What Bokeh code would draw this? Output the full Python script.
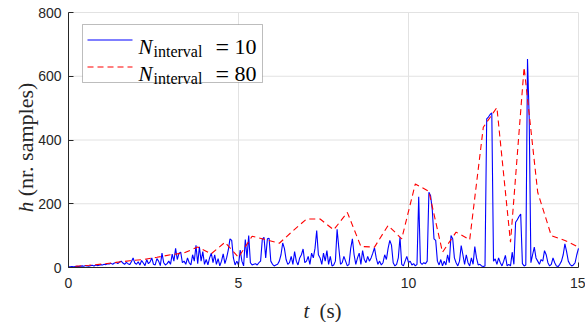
import math
import numpy as np
from bokeh.plotting import figure
from bokeh.models import Range1d, Label, BoxAnnotation, FixedTicker
from bokeh.embed import file_html
from bokeh.resources import INLINE

# ---------------- data ----------------
# N_interval = 10 : one value every 0.05 s (t = 0 .. 15)
t_blue = [round(0.05 * i, 2) for i in range(301)]
h_blue = (
    [2, 2, 3, 2, 3, 4, 3, 4, 5, 4, 6, 5, 4, 6, 7, 5, 8, 6, 7, 9] +
    [8, 10, 9, 12, 11, 13, 10, 14, 16, 12, 17, 20, 14, 10, 16, 12, 9, 18, 30, 14] +
    [10, 18, 8, 22, 14, 6, 25, 12, 18, 30, 10, 8, 28, 20, 6, 45, 15, 8, 12, 20] +
    [10, 42, 20, 60, 25, 45, 48, 15, 20, 10, 30, 15, 8, 40, 20, 70, 12, 65, 20, 50] +
    [10, 25, 8, 30, 45, 15, 40, 10, 28, 5, 20, 43, 12, 30, 55, 90, 85, 30, 8, 20] +
    [8, 55, 20, 5, 88, 30, 100, 15, 8, 10, 12, 8, 15, 20, 88, 95, 30, 90, 92, 20] +
    [10, 5, 8, 10, 20, 40, 77, 60, 25, 10, 15, 35, 10, 50, 20, 8, 30, 40, 58, 15] +
    [20, 35, 10, 45, 30, 60, 116, 40, 30, 10, 45, 20, 53, 10, 35, 5, 8, 20, 120, 62] +
    [10, 15, 35, 20, 5, 10, 60, 90, 40, 10, 30, 45, 10, 53, 25, 15, 35, 20, 30, 45] +
    [62, 30, 10, 20, 8, 15, 40, 25, 60, 85, 70, 15, 5, 10, 30, 95, 10, 5, 20, 35] +
    [15, 20, 8, 12, 5, 10, 222, 15, 10, 15, 12, 20, 236, 225, 180, 90, 85, 20, 8, 25] +
    [5, 20, 8, 40, 15, 100, 90, 30, 15, 5, 20, 69, 40, 10, 40, 15, 5, 30, 10, 66] +
    [30, 8, 10, 5, 3, 5, 466, 472, 480, 485, 20, 27, 10, 30, 15, 5, 20, 38, 5, 10] +
    [5, 48, 10, 142, 150, 160, 168, 12, 5, 8, 654, 470, 15, 40, 64, 30, 20, 10, 25, 20] +
    [53, 40, 15, 5, 10, 30, 15, 5, 3, 10, 20, 40, 74, 50, 20, 10, 5, 8, 15, 40] +
    [60]
)

# N_interval = 80 : one value every 0.4 s
t_red = [round(0.2 + 0.4 * k, 1) for k in range(38)]
h_red = [4, 7, 11, 16, 21, 25, 32, 40, 46, 64,
         43, 79, 32, 98, 87, 76, 115, 152, 152, 118,
         173, 66, 64, 132, 90, 262, 239, 48, 111, 87,
         440, 502, 79, 628, 236, 100, 85, 64]

x_ticks = [0, 5, 10, 15]
y_ticks = [0, 200, 400, 600, 800]

# ---------------- layout helpers ----------------
W, H = 585, 322
L, R, T, B = 68, 578, 12, 267          # pixel box of the axes area
X0, X1, Y0, Y1 = 0, 15, 0, 800          # data limits of the axes area


def dx(px):
    return X0 + (px - L) / (R - L) * (X1 - X0)


def dy(py):
    return Y0 + (B - py) / (B - T) * (Y1 - Y0)


DARK = "#262626"

# the frame covers the whole canvas; axes sit at fixed data locations
p = figure(width=W, height=H, output_backend="svg", toolbar_location=None,
           x_range=Range1d(dx(0), dx(W)), y_range=Range1d(dy(H), dy(0)),
           min_border_left=0, min_border_right=0,
           min_border_top=0, min_border_bottom=0)

p.outline_line_color = None
p.background_fill_color = "white"
p.border_fill_color = "white"
p.grid.visible = False

p.xaxis.ticker = FixedTicker(ticks=x_ticks)
p.yaxis.ticker = FixedTicker(ticks=y_ticks)
p.xaxis.fixed_location = Y0
p.yaxis.fixed_location = X0
p.xaxis.bounds = (X0, X1)
p.yaxis.bounds = (Y0, Y1)
for ax in (p.xaxis, p.yaxis):
    ax.axis_line_color = DARK
    ax.axis_line_width = 1
    ax.major_tick_line_color = DARK
    ax.major_tick_in = 5
    ax.major_tick_out = 0
    ax.minor_tick_line_color = None
    ax.major_label_text_color = DARK
    ax.major_label_text_font = "Liberation Sans"
    ax.major_label_text_font_size = "14px"
p.xaxis.major_label_standoff = 10
p.yaxis.major_label_standoff = 7

# grid lines, limited to the axes area
GRID = "#e2e2e2"
p.segment(x0=x_ticks, y0=[Y0] * len(x_ticks), x1=x_ticks, y1=[Y1] * len(x_ticks),
          line_color=GRID, line_width=1, level="underlay")
p.segment(x0=[X0] * len(y_ticks), y0=y_ticks, x1=[X1] * len(y_ticks), y1=y_ticks,
          line_color=GRID, line_width=1, level="underlay")

# ---------------- series ----------------
p.line(t_blue, h_blue, line_color="#0000ff", line_width=1.1)
p.line(t_red, h_red, line_color="#ff0000", line_width=1.1, line_dash="6 4")

# ---------------- axis labels ----------------
serif = "Liberation Serif"
p.add_layout(Label(x=dx(303), y=dy(310), text="t", text_font=serif,
                   text_font_style="italic", text_font_size="21px",
                   text_color=DARK, text_baseline="alphabetic"))
p.add_layout(Label(x=dx(330), y=dy(310), text="(s)", text_font=serif,
                   text_font_size="21px", text_align="center",
                   text_color=DARK, text_baseline="alphabetic"))
p.add_layout(Label(x=dx(25), y=dy(206.5), text="h", text_font=serif,
                   text_font_style="italic", text_font_size="21px",
                   text_align="center", angle=math.pi / 2,
                   text_color=DARK, text_baseline="alphabetic"))
p.add_layout(Label(x=dx(25), y=dy(139), text="(nr. samples)", text_font=serif,
                   text_font_size="22px", text_align="center", angle=math.pi / 2,
                   text_color=DARK, text_baseline="alphabetic"))

# ---------------- legend ----------------
p.add_layout(BoxAnnotation(left=dx(82), right=dx(262), top=dy(24), bottom=dy(82),
                           fill_color="white", fill_alpha=1.0,
                           line_color=DARK, line_width=1))
p.segment(x0=[dx(87)], y0=[dy(39.5)], x1=[dx(132)], y1=[dy(39.5)],
          line_color="#0000ff", line_width=1.1, level="overlay")
p.segment(x0=[dx(87)], y0=[dy(66.5)], x1=[dx(132)], y1=[dy(66.5)],
          line_color="#ff0000", line_width=1.1, line_dash="6 4", level="overlay")

labels_legend = ["10", "80"]
for base, num in zip([46.5, 73.5], labels_legend):
    p.add_layout(Label(x=dx(138), y=dy(base), text="N", text_font=serif,
                       text_font_style="italic", text_font_size="21px",
                       text_color="black", text_baseline="alphabetic", level="overlay"))
    p.add_layout(Label(x=dx(153), y=dy(base + 4), text="interval", text_font=serif,
                       text_font_size="16px",
                       text_color="black", text_baseline="alphabetic", level="overlay"))
    p.add_layout(Label(x=dx(215), y=dy(base), text="=", text_font=serif,
                       text_font_size="24px",
                       text_color="black", text_baseline="alphabetic", level="overlay"))
    p.add_layout(Label(x=dx(234), y=dy(base), text=num, text_font=serif,
                       text_font_size="22px",
                       text_color="black", text_baseline="alphabetic", level="overlay"))

open("out.html", "w").write(file_html(p, INLINE))
